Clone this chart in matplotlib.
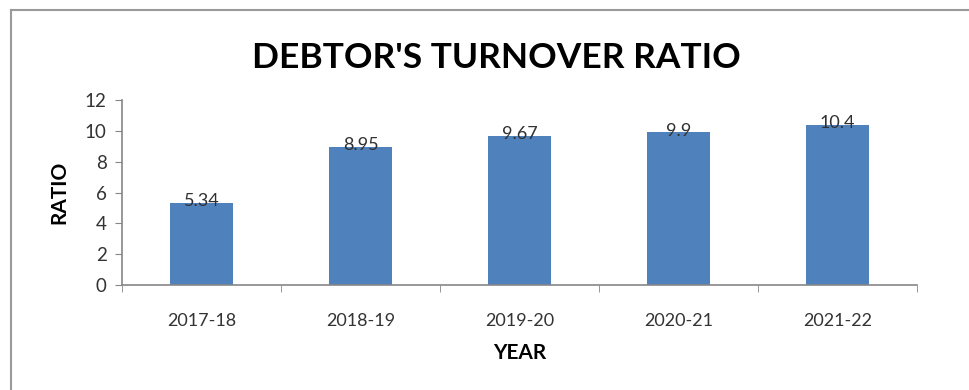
import matplotlib
matplotlib.use("Agg")
from matplotlib import pyplot as plt
from matplotlib.lines import Line2D
import numpy as np

years = ["2017-18", "2018-19", "2019-20", "2020-21", "2021-22"]
ratios = [5.34, 8.95, 9.67, 9.9, 10.4]
ratio_labels = ["5.34", "8.95", "9.67", "9.9", "10.4"]

matplotlib.rcParams["font.family"] = ["Lato", "DejaVu Sans"]

W, H = 969, 390
fig = plt.figure(figsize=(W / 100, H / 100), dpi=100)
ax = fig.add_axes([122 / W, 1 - 285 / H, (917 - 122) / W, (285 - 100) / H])

x = np.arange(len(years))
ax.bar(x, ratios, width=0.4, color="#4f81bd", zorder=2)
for xi, v, lab in zip(x, ratios, ratio_labels):
    ax.text(xi, v - 0.4, lab, ha="center", va="bottom", fontsize=13, color="#303030", zorder=3)

ax.set_xlim(-0.5, len(years) - 0.5)
ax.set_ylim(0, 12)
ax.set_yticks(range(0, 13, 2))
ax.set_xticks(x)
ax.set_xticklabels(years)
ax.set_xticks(np.arange(-0.5, len(years), 1.0), minor=True)
ax.tick_params(axis="x", which="major", length=0, pad=20, labelsize=13, labelcolor="#333333")
ax.tick_params(axis="x", which="minor", length=5, color="#868686", direction="out")
ax.tick_params(axis="y", length=5, color="#868686", labelsize=13.5, labelcolor="#333333", pad=6)
for s in ["top", "right"]:
    ax.spines[s].set_visible(False)
for s in ["left", "bottom"]:
    ax.spines[s].set_color("#868686")
    ax.spines[s].set_linewidth(1.2)

ax.set_xlabel("YEAR", fontsize=15, fontweight="bold", labelpad=10)
ax.set_ylabel("RATIO", fontsize=15, fontweight="bold", labelpad=11)
fig.text(496 / W, 1 - 58 / H, "DEBTOR'S TURNOVER RATIO", ha="center", va="center",
         fontsize=25.5, fontweight="bold", color="black")

# chart frame
fig.add_artist(Line2D([11 / W, 11 / W], [0, 1 - 10 / H], color="#9a9a9a", linewidth=1.5))
fig.add_artist(Line2D([11 / W, 1], [1 - 10 / H, 1 - 10 / H], color="#9a9a9a", linewidth=1.5))

fig.savefig("out.png", dpi=100)
